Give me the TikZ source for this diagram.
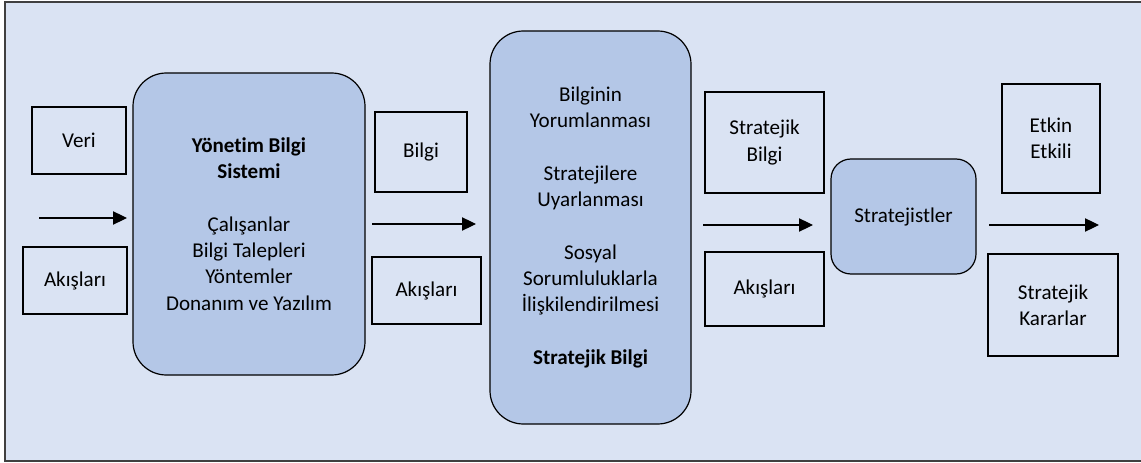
\documentclass[tikz,border=0pt]{standalone}
\usepackage{fontspec}
\setmainfont{Carlito}[Ligatures=NoCommon]
\usetikzlibrary{arrows.meta}
\definecolor{pagebg}{RGB}{218,227,243}
\definecolor{procfill}{RGB}{180,199,231}
\definecolor{framegray}{RGB}{64,64,64}
\tikzset{
  txt/.style={font=\fontsize{15.8}{19.7}\selectfont, align=center, text=black},
  wh/.style args={#1x#2}{minimum width=#1*0.75pt, minimum height=#2*0.75pt},
  sbox/.style={txt, draw=black, line width=0.8pt, inner sep=0pt, outer sep=0pt},
  rbox/.style={txt, draw=black, fill=procfill, line width=0.9pt, inner sep=0pt, outer sep=0pt, rounded corners=25pt},
  flow/.style={line width=0.8pt, -{Triangle[length=10.5pt,width=10pt]}}
}
\begin{document}
\begin{tikzpicture}[x=0.75pt,y=-0.75pt]
\useasboundingbox (0,0) rectangle (1141,463);
% page background and frame
\fill[pagebg] (5,2) rectangle (1141,461);
\draw[framegray, line width=1pt] (1141,2) -- (5,2) -- (5,461) -- (1141,461);

% main processing blocks
\node[rbox, wh=232x302] (ybs) at (249,224) {\textbf{Yönetim Bilgi}\\\textbf{Sistemi}\\[19.7pt]Çalışanlar\\Bilgi Talepleri\\Yöntemler\\Donanım ve Yazılım};
\node[rbox, wh=201x393] (yorum) at (590.5,227.5) {Bilginin\\Yorumlanması\\[19.7pt]Stratejilere\\Uyarlanması\\[19.7pt]Sosyal\\Sorumluluklarla\\İlişkilendirilmesi\\[19.7pt]\textbf{Stratejik Bilgi}};
\node[rbox, rounded corners=15pt, wh=145x115] (strat) at (903.5,216.5) {Stratejistler};

% flow labels
\node[sbox, wh=94x67]   (veri)   at (79,140.5)   {Veri};
\node[sbox, wh=104x67]  (akis1)  at (75,280.5)   {Akışları};
\node[sbox, wh=92x80]   (bilgi)  at (421,152)    {Bilgi};
\node[sbox, wh=109x67]  (akis2)  at (426.5,290.5){Akışları};
\node[sbox, wh=119x101] (sbilgi) at (764.5,142.5){Stratejik\\Bilgi};
\node[sbox, wh=119x74]  (akis3)  at (764.5,289)  {Akışları};
\node[sbox, wh=98x109]  (etkin)  at (1051,138.5) {Etkin\\Etkili};
\node[sbox, wh=130x102] (karar)  at (1053,305)   {Stratejik\\Kararlar};

% flow arrows
\coordinate (a1s) at (39,218);  \coordinate (a1e) at (127,218);
\coordinate (a2s) at (372,224); \coordinate (a2e) at (476,224);
\coordinate (a3s) at (703,225); \coordinate (a3e) at (813,225);
\coordinate (a4s) at (989,225); \coordinate (a4e) at (1099,225);
\draw[flow] (a1s) -- (a1e);
\draw[flow] (a2s) -- (a2e);
\draw[flow] (a3s) -- (a3e);
\draw[flow] (a4s) -- (a4e);
\end{tikzpicture}
\end{document}
